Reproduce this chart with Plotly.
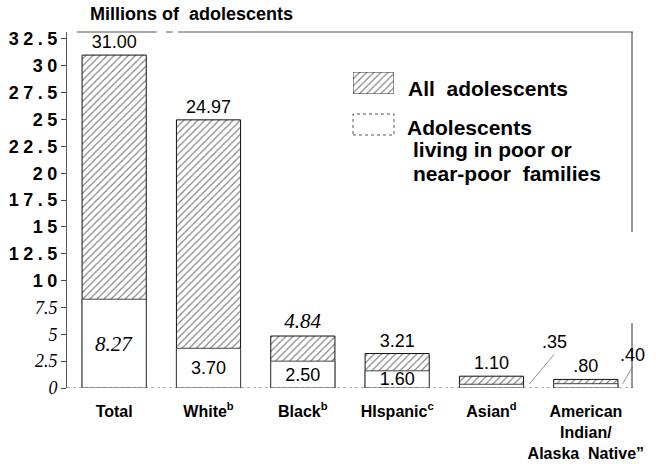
import plotly.graph_objects as go

categories = ["Total", "White", "Black", "Hispanic", "Asian", "AIAN"]
cat_labels = ["Total", "White<sup>b</sup>", "Black<sup>b</sup>", "HIspanic<sup>c</sup>",
              "Asian<sup>d</sup>", "American<br>Indian/<br>Alaska  Native\u201d"]
all_adol = [31.00, 24.97, 4.84, 3.21, 1.10, 0.80]
poor_adol = [8.27, 3.70, 2.50, 1.60, 0.35, 0.40]
all_text = ["31.00", "24.97", "<i>4.84</i>", "3.21", "1.10", ".80"]
all_fonts = ["Liberation Sans", "Liberation Sans", "Liberation Serif", "Liberation Sans",
             "Liberation Sans", "Liberation Sans"]
poor_text = ["<i>8.27</i>", "3.70", "2.50", "1.60", " ", " "]
poor_fonts = ["Liberation Serif", "Liberation Sans", "Liberation Sans", "Liberation Sans",
              "Liberation Sans", "Liberation Sans"]
outside_poor = {4: ".35", 5: ".40"}
tick_vals = [0, 2.5, 5, 7.5, 10, 12.5, 15, 17.5, 20, 22.5, 25, 27.5, 30, 32.5]

W, H = 666, 464
L, R, T, B = 67, 33, 32, 76
PW, PH = W - L - R, H - T - B


def px(xp):
    return (xp - L) / PW


def py(yp):
    return (H - B - yp) / PH


def tick_label(v):
    s = ("%g" % v)
    if v <= 7.5:
        return "<span style='font-family:Liberation Serif;font-weight:normal'><i>%s</i></span>" % s
    return "\u2005".join(list(s))


HATCH = dict(shape="/", size=5, solidity=0.22, fgcolor="black", bgcolor="white")

fig = go.Figure()
fig.add_trace(go.Bar(
    x=categories, y=all_adol, width=0.68, name="All adolescents",
    marker=dict(color="white", line=dict(color="#111", width=1), pattern=HATCH),
    text=all_text, textposition="outside", cliponaxis=False,
    textfont=dict(family=all_fonts, size=[18, 18, 21, 18, 18, 18], color="black"),
    showlegend=False,
))
fig.add_trace(go.Bar(
    x=categories, y=poor_adol, width=0.68, name="Adolescents living in poor or near-poor families",
    marker=dict(color="white", line=dict(color="#444", width=1)),
    text=poor_text, textposition="inside", insidetextanchor="middle", constraintext="none",
    textfont=dict(family=poor_fonts, size=[21, 18, 18, 18, 18, 18], color="black"),
    showlegend=False,
))

# legend hatched swatch drawn as a bar on its own small axes
fig.add_trace(go.Bar(
    x=[0], y=[1], width=1, xaxis="x2", yaxis="y2", showlegend=False, hoverinfo="skip",
    marker=dict(color="white", line=dict(color="#333", width=1), pattern=HATCH),
))

fig.update_layout(
    width=W, height=H, margin=dict(l=L, r=R, t=T, b=B),
    paper_bgcolor="white", plot_bgcolor="white",
    barmode="overlay", bargap=0.32,
    font=dict(family="Liberation Sans", color="black"),
    xaxis=dict(type="category", range=[-0.5, 5.5], tickmode="array", tickvals=categories,
               ticktext=cat_labels, showgrid=False, zeroline=False, showline=False, ticks="",
               tickfont=dict(family="Liberation Sans", size=16, weight="bold"),
               ticklabelstandoff=12, automargin=False),
    yaxis=dict(range=[0, 33.15], tickmode="array", tickvals=tick_vals,
               ticktext=[tick_label(v) for v in tick_vals],
               showgrid=False, zeroline=False, showline=True, linecolor="#555", linewidth=1,
               ticks="outside", ticklen=5, tickcolor="#444",
               tickfont=dict(family="Liberation Sans", size=18, weight="bold"),
               ticklabelstandoff=0, automargin=False),
    xaxis2=dict(domain=[px(353), px(394)], range=[-0.5, 0.5], visible=False, anchor="y2",
                automargin=False),
    yaxis2=dict(domain=[py(94), py(72)], range=[0, 1], visible=False, anchor="x2",
                automargin=False),
)

shapes = []
shapes.append(dict(type="line", xref="paper", yref="y", x0=0, x1=1, y0=0, y1=0,
                   line=dict(color="#666", width=1, dash="dot")))
shapes.append(dict(type="line", xref="paper", yref="paper", x0=px(77), x1=px(157), y0=1, y1=1,
                   line=dict(color="#555", width=1)))
shapes.append(dict(type="line", xref="paper", yref="paper", x0=px(166), x1=px(173), y0=1, y1=1,
                   line=dict(color="#555", width=1)))
shapes.append(dict(type="line", xref="paper", yref="paper", x0=px(178), x1=px(633), y0=1, y1=1,
                   line=dict(color="#555", width=1)))
shapes.append(dict(type="line", xref="paper", yref="paper", x0=px(632), x1=px(632), y0=1, y1=py(232),
                   line=dict(color="#333", width=1)))
shapes.append(dict(type="line", xref="paper", yref="paper", x0=px(632), x1=px(632), y0=py(323), y1=0,
                   line=dict(color="#333", width=1)))
shapes.append(dict(type="rect", xref="paper", yref="paper", x0=px(353), x1=px(394),
                   y0=py(135), y1=py(114), fillcolor="white",
                   line=dict(color="#555", width=1, dash="dot")))
fig.update_layout(shapes=shapes)

ann = []
ann.append(dict(text="<b>Millions of  adolescents</b>", xref="paper", yref="paper",
                x=px(191), y=py(14), showarrow=False, font=dict(size=18, family="Liberation Sans"),
                xanchor="center", yanchor="middle"))
legend_lines = [("<b>All  adolescents</b>", 406, 88),
                ("<b>Adolescents</b>", 405, 127),
                ("<b>living in poor or</b>", 411, 149),
                ("<b>near-poor  families</b>", 411, 173)]
for txt, xp, yp in legend_lines:
    ann.append(dict(text=txt, xref="paper", yref="paper", x=px(xp), y=py(yp),
                    showarrow=False, font=dict(size=21), xanchor="left", yanchor="middle"))
offsets = {4: (25, -30), 5: (10, -17)}
for i, lab in outside_poor.items():
    ax, ay = offsets[i]
    ann.append(dict(text=lab, xref="x", yref="y", x=i + 0.40 if i == 4 else i + 0.39,
                    y=poor_adol[i], showarrow=True, arrowhead=0, arrowwidth=0.8,
                    arrowcolor="#777", ax=ax, ay=ay, standoff=0,
                    font=dict(size=18, family="Liberation Sans"), xanchor="center", yanchor="bottom"))
fig.update_layout(annotations=ann)

fig.write_html("out.html", post_script="document.body.style.margin='0px';",
               config={"displayModeBar": False})
